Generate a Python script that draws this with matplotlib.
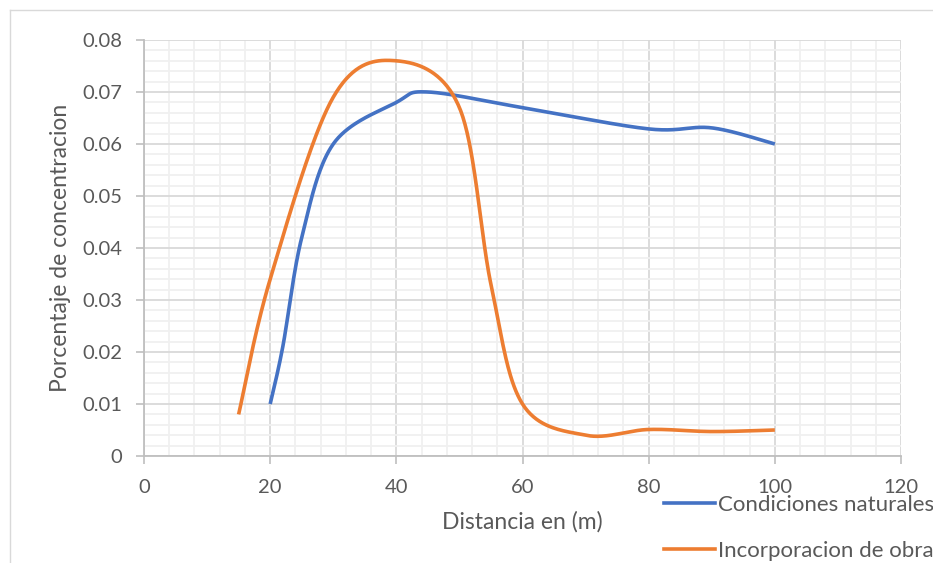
import numpy as np
import matplotlib
matplotlib.use("Agg")
import matplotlib.pyplot as plt
from matplotlib.ticker import MultipleLocator
from matplotlib.lines import Line2D

plt.rcParams['font.family'] = ['Lato', 'DejaVu Sans']

# Data
x_nat = [20, 22, 25, 30, 40, 45, 60, 80, 90, 100]
y_nat = [0.010, 0.021, 0.042, 0.060, 0.068, 0.070, 0.067, 0.0629, 0.0631, 0.060]
x_obra = [15, 20, 30, 40, 50, 55, 60, 70, 80, 90, 100]
y_obra = [0.008, 0.034, 0.069, 0.076, 0.067, 0.033, 0.010, 0.0040, 0.0051, 0.0047, 0.005]
labels = ["Condiciones naturales", "Incorporacion de obra"]
colors = ["#4472C4", "#ED7D31"]

W, H = 933, 563
fig = plt.figure(figsize=(W/100, H/100), dpi=100)
L, R, T, B = 144, 901, 40, 456
ax = fig.add_axes([L/W, 1-B/H, (R-L)/W, (B-T)/H])
ax.set_xlim(0, 120)
ax.set_ylim(0, 0.08)
sx = (R-L)/120.0
sy = (B-T)/0.08


def excel_smooth(xs, ys, n=40):
    P = np.column_stack([np.array(xs)*sx, np.array(ys)*sy])
    out = []
    m = len(P)
    for i in range(m-1):
        p0 = P[i-1] if i > 0 else P[i]
        p1 = P[i]
        p2 = P[i+1]
        p3 = P[i+2] if i+2 < m else P[i+1]
        c1 = p1 + (p2-p0)/6.0
        c2 = p2 - (p3-p1)/6.0
        t = np.linspace(0, 1, n)[:, None]
        seg = (1-t)**3*p1 + 3*(1-t)**2*t*c1 + 3*(1-t)*t**2*c2 + t**3*p2
        if i > 0:
            seg = seg[1:]
        out.append(seg)
    out = np.vstack(out)
    return out[:, 0]/sx, out[:, 1]/sy


for xs, ys, c, lab in [(x_nat, y_nat, colors[0], labels[0]), (x_obra, y_obra, colors[1], labels[1])]:
    xx, yy = excel_smooth(xs, ys)
    ax.plot(xx, yy, color=c, lw=2.6, solid_capstyle='butt', label=lab, zorder=3)

ax.xaxis.set_major_locator(MultipleLocator(20))
ax.xaxis.set_minor_locator(MultipleLocator(4))
ax.yaxis.set_major_locator(MultipleLocator(0.01))
ax.yaxis.set_minor_locator(MultipleLocator(0.002))
ax.grid(True, which='major', color='#d9d9d9', lw=1.3, zorder=1)
ax.grid(True, which='minor', color='#f0f0f0', lw=1.3, zorder=0)
ax.set_axisbelow(True)
for s in ['top', 'right']:
    ax.spines[s].set_visible(False)
for s in ['left', 'bottom']:
    ax.spines[s].set_color('#bfbfbf')
    ax.spines[s].set_linewidth(1.3)
ax.tick_params(which='major', direction='out', length=5.5, width=1.2, color='#bfbfbf',
               labelcolor='#595959', labelsize=14.5)
ax.tick_params(axis='x', which='major', pad=11)
ax.tick_params(axis='y', which='major', pad=10)
ax.tick_params(which='minor', length=0)
ax.yaxis.set_major_formatter(matplotlib.ticker.FuncFormatter(lambda v, p: '0' if abs(v) < 1e-9 else f'{v:.2f}'))
ax.set_xlabel("Distancia en (m)", fontsize=16.5, color='#595959', labelpad=11)
ax.set_ylabel("Porcentaje de concentracion", fontsize=16.5, color='#595959', labelpad=8)

h = [Line2D([], [], color=c, lw=2.6) for c in colors]
fig.legend(h, labels, loc='upper left', bbox_to_anchor=(664/W, 1-495/H),
           frameon=False, fontsize=16, handlelength=2.3, handletextpad=0.15,
           labelspacing=1.15, borderpad=0, borderaxespad=0, labelcolor='#595959')

# chart area border (faint)
fig.add_artist(Line2D([10/W, 10/W], [0, 1-10/H], transform=fig.transFigure, color='#d9d9d9', lw=1))
fig.add_artist(Line2D([10/W, 1], [1-10/H, 1-10/H], transform=fig.transFigure, color='#d9d9d9', lw=1))

fig.savefig("out.png", dpi=100)
